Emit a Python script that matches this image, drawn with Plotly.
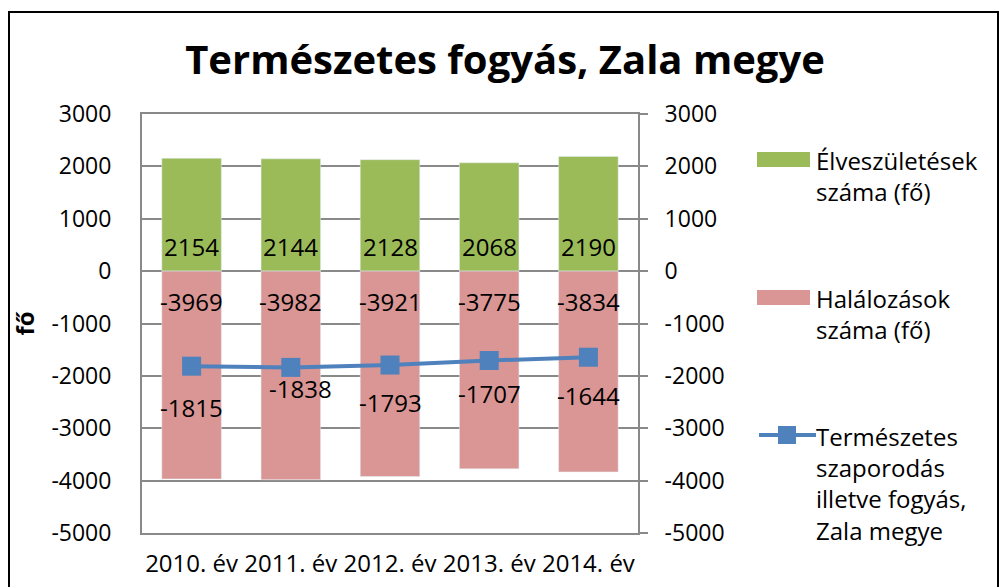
import plotly.graph_objects as go

years = ["2010. év", "2011. év", "2012. év", "2013. év", "2014. év"]
births = [2154, 2144, 2128, 2068, 2190]
deaths = [-3969, -3982, -3921, -3775, -3834]
natural = [-1815, -1838, -1793, -1707, -1644]
y_ticks = [3000, 2000, 1000, 0, -1000, -2000, -3000, -4000, -5000]
y_ticktext = [str(v) for v in y_ticks]

name_births = "Élveszületések<br>száma (fő)"
name_deaths = "Halálozások<br>száma (fő)"
name_natural = "Természetes<br>szaporodás<br>illetve fogyás,<br>Zala megye"

GREEN = "#9BBB59"
RED = "#D99694"
BLUE = "#4F81BD"
GRID = "#898989"
FONT = "Open Sans"

# page offset: browser body margin of 8px
PL, PT = 142, 114     # plot area left/top in page px
PR, PB = 638, 533     # plot area right/bottom in page px
PW, PH = PR - PL, PB - PT


def px(xpage):
    return (xpage - PL) / PW


def py(ypage):
    return (PB - ypage) / PH


fig = go.Figure()
fig.add_trace(go.Bar(x=years, y=births, marker_color=GREEN, width=0.6, name=name_births, showlegend=False))
fig.add_trace(go.Bar(x=years, y=deaths, marker_color=RED, width=0.6, name=name_deaths, showlegend=False))
fig.add_trace(go.Scatter(x=years, y=natural, mode="lines+markers", name=name_natural,
                         line=dict(color=BLUE, width=4),
                         marker=dict(symbol="square", size=19, color=BLUE), showlegend=False))
fig.add_trace(go.Scatter(x=years, y=natural, yaxis="y2", mode="none", showlegend=False, hoverinfo="skip"))

# data labels
lbl_font = dict(family=FONT, size=24, color="black")
for x, v in zip(years, births):
    fig.add_annotation(x=x, y=0, text=str(v), showarrow=False, yshift=25, font=lbl_font)
for x, v in zip(years, deaths):
    fig.add_annotation(x=x, y=0, text=str(v), showarrow=False, yshift=-30, font=lbl_font)
nat_shift_x = [0, 10, 0, 0, 0]
nat_shift_y = [-41, -21, -37, -33, -38]
for x, v, sx, sy in zip(years, natural, nat_shift_x, nat_shift_y):
    fig.add_annotation(x=x, y=v, text=str(v), showarrow=False, xshift=sx, yshift=sy, font=lbl_font)

# manual legend
lx0, lx1 = px(757), px(810)
fig.add_shape(type="rect", xref="paper", yref="paper", x0=lx0, x1=lx1,
              y0=py(167), y1=py(152), fillcolor=GREEN, line_width=0)
fig.add_shape(type="rect", xref="paper", yref="paper", x0=lx0, x1=lx1,
              y0=py(305), y1=py(290), fillcolor=RED, line_width=0)
fig.add_shape(type="line", xref="paper", yref="paper", x0=px(759), x1=px(816),
              y0=py(435), y1=py(435), line=dict(color=BLUE, width=4))
fig.add_shape(type="rect", xref="paper", yref="paper", x0=px(778), x1=px(796),
              y0=py(444), y1=py(426), fillcolor=BLUE, line_width=0)
leg_font = dict(family=FONT, size=24, color="black")
for name, ytop in [(name_births, 142), (name_deaths, 280), (name_natural, 418)]:
    fig.add_annotation(xref="paper", yref="paper", x=px(814), y=py(ytop),
                       text=name, showarrow=False, xanchor="left", yanchor="top",
                       align="left", font=leg_font)

# page number fragment
fig.add_annotation(xref="paper", yref="paper", x=px(999), y=py(573),
                   text="1", showarrow=False, xanchor="left", yanchor="middle",
                   font=dict(family=FONT, size=13, color="black"))

# outer border
fig.add_shape(type="rect", xref="paper", yref="paper",
              x0=px(9), x1=px(998), y0=py(620), y1=py(12),
              line=dict(color="black", width=2), fillcolor="rgba(0,0,0,0)")

tick_font = dict(family=FONT, size=23, color="black")
W, H = 1000, 579
fig.update_layout(
    width=W, height=H,
    margin=dict(l=PL - 8, r=W - (PR - 8), t=PT - 8, b=H - (PB - 8), autoexpand=False),
    paper_bgcolor="white", plot_bgcolor="white",
    barmode="relative",
    title=dict(text="<b>Természetes fogyás, Zala megye</b>", x=(505 - 8) / W, xanchor="center",
               y=1 - (60 - 8) / H, yanchor="middle", font=dict(family=FONT, size=40, color="black")),
    xaxis=dict(type="category", showline=True, mirror=True, linecolor=GRID, linewidth=2,
               tickfont=dict(family=FONT, size=24, color="black"), ticks="", showgrid=False,
               tickangle=0, automargin=False, ticklabelstandoff=8),
    yaxis=dict(range=[-5000, 3000], tickvals=y_ticks, ticktext=y_ticktext,
               showgrid=True, gridcolor=GRID, gridwidth=2,
               showline=True, linecolor=GRID, linewidth=2, tickfont=tick_font,
               ticks="", zeroline=False, ticklabelstandoff=24, automargin=False,
               title=dict(text="<b>fő</b>", font=dict(family=FONT, size=24, color="black"), standoff=16)),
    yaxis2=dict(range=[-5000, 3000], tickvals=y_ticks, ticktext=y_ticktext,
                overlaying="y", side="right", showgrid=False, automargin=False,
                showline=True, linecolor=GRID, linewidth=2, ticks="outside", ticklen=8,
                tickcolor=GRID, tickwidth=2, tickfont=tick_font, zeroline=False, ticklabelstandoff=12),
)

fig.write_html("out.html")
